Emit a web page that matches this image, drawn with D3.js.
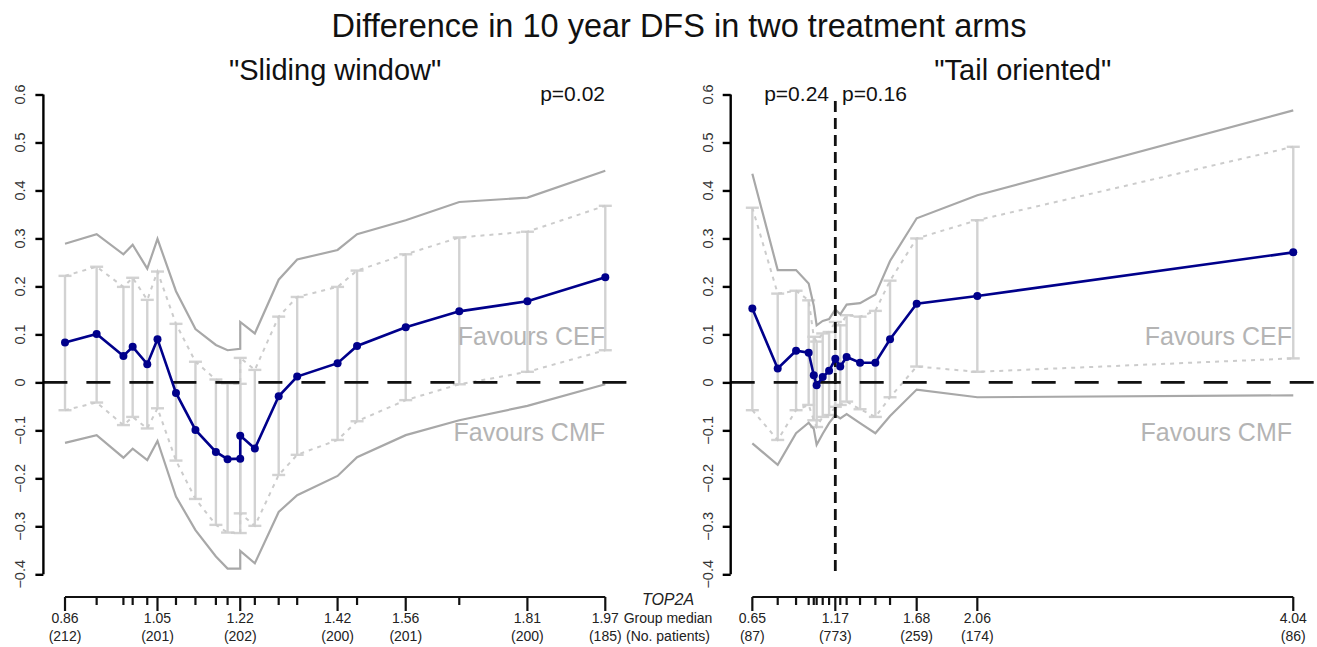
<!DOCTYPE html>
<html>
<head>
<meta charset="utf-8">
<script src="https://cdn.jsdelivr.net/npm/d3@7"></script>
<style>
  body { margin: 0; background: #fff; }
  svg { font-family: 'Liberation Sans', Arial, sans-serif; }
</style>
</head>
<body>
<svg id="chart" width="1317" height="647"></svg>
<script>
// DATA - sliding window
const leftMedian = [0.86, 0.925, 0.98, 0.999, 1.029, 1.05, 1.088, 1.128, 1.17, 1.194, 1.22, 1.22, 1.25, 1.299, 1.337, 1.42, 1.46, 1.56, 1.67, 1.81, 1.97];
const leftDiff = [0.083, 0.101, 0.055, 0.074, 0.038, 0.090, -0.022, -0.099, -0.145, -0.160, -0.159, -0.111, -0.138, -0.029, 0.012, 0.040, 0.076, 0.115, 0.148, 0.169, 0.219];
const leftLo = [-0.058, -0.042, -0.089, -0.072, -0.096, -0.054, -0.163, -0.243, -0.297, -0.313, -0.314, -0.273, -0.299, -0.193, -0.151, -0.120, -0.081, -0.037, -0.004, 0.022, 0.067];
const leftHi = [0.222, 0.241, 0.199, 0.218, 0.172, 0.231, 0.122, 0.043, 0.006, -0.002, -0.003, 0.051, 0.026, 0.137, 0.178, 0.199, 0.233, 0.267, 0.302, 0.314, 0.368];
const leftBandLo = [-0.126, -0.110, -0.157, -0.138, -0.162, -0.122, -0.238, -0.308, -0.363, -0.388, -0.388, -0.351, -0.377, -0.270, -0.235, -0.195, -0.156, -0.110, -0.079, -0.049, -0.004];
const leftBandHi = [0.289, 0.309, 0.267, 0.287, 0.237, 0.299, 0.190, 0.111, 0.078, 0.067, 0.070, 0.126, 0.102, 0.214, 0.256, 0.276, 0.309, 0.338, 0.376, 0.385, 0.441];
const leftLabelVals = [0.86, 1.05, 1.22, 1.42, 1.56, 1.81, 1.97];
const leftLabelN = [212, 201, 202, 200, 201, 200, 185];

// DATA - tail oriented
const rightMedian = [0.65, 0.809, 0.924, 1.003, 1.035, 1.053, 1.091, 1.131, 1.17, 1.201, 1.241, 1.325, 1.421, 1.513, 1.68, 2.06, 4.04];
const rightDiff = [0.154, 0.029, 0.066, 0.062, 0.015, -0.006, 0.011, 0.024, 0.049, 0.033, 0.053, 0.041, 0.041, 0.090, 0.164, 0.180, 0.271];
const rightLo = [-0.058, -0.120, -0.058, -0.047, -0.079, -0.093, -0.072, -0.068, -0.051, -0.047, -0.040, -0.056, -0.072, -0.031, 0.033, 0.022, 0.050];
const rightHi = [0.364, 0.185, 0.191, 0.171, 0.095, 0.085, 0.102, 0.105, 0.126, 0.119, 0.140, 0.137, 0.149, 0.212, 0.300, 0.338, 0.491];
const rightBandLo = [-0.127, -0.172, -0.106, -0.084, -0.097, -0.130, -0.107, -0.085, -0.068, -0.075, -0.066, -0.085, -0.106, -0.070, -0.015, -0.031, -0.027];
const rightBandHi = [0.435, 0.234, 0.234, 0.206, 0.160, 0.119, 0.128, 0.132, 0.152, 0.142, 0.162, 0.165, 0.183, 0.253, 0.342, 0.390, 0.567];
const rightLabelVals = [0.65, 1.17, 1.68, 2.06, 4.04];
const rightLabelN = [87, 773, 259, 174, 86];

const yTicks = [-0.4, -0.3, -0.2, -0.1, 0, 0.1, 0.2, 0.3, 0.4, 0.5, 0.6];

// SETUP
const svg = d3.select('#chart');
const y = d3.scaleLinear().domain([-0.4, 0.6]).range([574.3, 94.5]);
const axisY = 597;

const fmtY = d => (d === 0 ? '0' : d3.format('.1f')(d));

function drawPanel(p) {
  const span = d3.max(p.med) - d3.min(p.med);
  const x = d3.scaleLinear()
    .domain([d3.min(p.med) - 0.04 * span, d3.max(p.med) + 0.04 * span])
    .range(p.range);
  const g = svg.append('g');
  const idx = d3.range(p.med.length);

  // error bars
  const eb = g.append('g').attr('stroke', '#d2d2d2').attr('stroke-width', 2.4).attr('fill', 'none');
  idx.forEach(i => {
    const xx = x(p.med[i]);
    eb.append('line').attr('x1', xx).attr('x2', xx).attr('y1', y(p.lo[i])).attr('y2', y(p.hi[i]));
    [p.lo[i], p.hi[i]].forEach(v => {
      eb.append('line').attr('x1', xx - 6.5).attr('x2', xx + 6.5).attr('y1', y(v)).attr('y2', y(v));
    });
  });

  // dotted pointwise lines
  const line = arr => d3.line().x((d, i) => x(p.med[i])).y(d => y(d))(arr);
  [p.lo, p.hi].forEach(arr => {
    g.append('path').attr('d', line(arr)).attr('fill', 'none')
      .attr('stroke', '#cccccc').attr('stroke-width', 2).attr('stroke-dasharray', '4,5');
  });

  // solid bands
  [p.bandLo, p.bandHi].forEach(arr => {
    g.append('path').attr('d', line(arr)).attr('fill', 'none')
      .attr('stroke', '#a8a8a8').attr('stroke-width', 2.2);
  });

  // zero line
  g.append('line').attr('x1', p.range[0]).attr('x2', p.range[1])
    .attr('y1', y(0)).attr('y2', y(0))
    .attr('stroke', '#111').attr('stroke-width', 2.8).attr('stroke-dasharray', '24,19');

  // favours labels
  g.append('text').attr('x', p.favX).attr('y', 345)
    .attr('text-anchor', 'end').attr('font-size', 25).attr('fill', '#b4b4b4').text('Favours CEF');
  g.append('text').attr('x', p.favX).attr('y', 441)
    .attr('text-anchor', 'end').attr('font-size', 25).attr('fill', '#b4b4b4').text('Favours CMF');

  // cut line
  if (p.cut !== undefined) {
    g.append('line').attr('x1', x(p.cut)).attr('x2', x(p.cut)).attr('y1', 101).attr('y2', 577)
      .attr('stroke', '#111').attr('stroke-width', 2.8).attr('stroke-dasharray', '11,6');
  }

  // blue estimate
  g.append('path').attr('d', line(p.diff)).attr('fill', 'none')
    .attr('stroke', '#00008b').attr('stroke-width', 2.6);
  g.selectAll('.pt').data(p.diff).enter().append('circle')
    .attr('cx', (d, i) => x(p.med[i])).attr('cy', d => y(d)).attr('r', 4)
    .attr('fill', '#00008b');

  // y axis
  const ya = g.append('g').attr('transform', 'translate(' + p.range[0] + ',0)')
    .call(d3.axisLeft(y).tickValues(yTicks).tickSize(8).tickFormat(''));
  ya.select('.domain').attr('d', 'M0,' + y(0.6) + 'V' + y(-0.4)).attr('stroke-width', 2.4);
  ya.selectAll('.tick line').attr('stroke-width', 2.4);
  yTicks.forEach(t => {
    g.append('text').attr('transform', 'translate(' + (p.range[0] - 18) + ',' + y(t) + ')rotate(-90)')
      .attr('text-anchor', 'middle').attr('font-size', 14.5).attr('fill', '#333').text(fmtY(t));
  });

  // bottom axis of group medians
  const uniq = Array.from(new Set(p.med));
  const xa = g.append('g').attr('transform', 'translate(0,' + axisY + ')');
  xa.append('line').attr('x1', x(uniq[0])).attr('x2', x(uniq[uniq.length - 1]))
    .attr('stroke', '#111').attr('stroke-width', 2.2);
  uniq.forEach(v => {
    const major = p.labVals.includes(v);
    xa.append('line').attr('x1', x(v)).attr('x2', x(v)).attr('y1', 0).attr('y2', major ? 14 : 8)
      .attr('stroke', '#111').attr('stroke-width', 2.2);
  });
  p.labVals.forEach((v, i) => {
    xa.append('text').attr('x', x(v)).attr('y', 26).attr('text-anchor', 'middle')
      .attr('font-size', 14).attr('fill', '#222').text(d3.format('.2f')(v));
    xa.append('text').attr('x', x(v)).attr('y', 44).attr('text-anchor', 'middle')
      .attr('font-size', 14).attr('fill', '#222').text('(' + p.labN[i] + ')');
  });

  // panel title and p-values
  svg.append('text').attr('x', (p.range[0] + p.range[1]) / 2).attr('y', 80)
    .attr('text-anchor', 'middle').attr('font-size', 29).attr('fill', '#111').text(p.title);
  p.pvals.forEach(pv => {
    svg.append('text').attr('x', pv.x).attr('y', 101).attr('text-anchor', pv.anchor)
      .attr('font-size', 21).attr('fill', '#111').text(pv.text);
  });
  return x;
}

drawPanel({
  med: leftMedian, diff: leftDiff, lo: leftLo, hi: leftHi,
  bandLo: leftBandLo, bandHi: leftBandHi, labVals: leftLabelVals, labN: leftLabelN,
  range: [43.4, 626.9], favX: 605, title: '"Sliding window"',
  pvals: [{ x: 605, anchor: 'end', text: 'p=0.02' }]
});

drawPanel({
  med: rightMedian, diff: rightDiff, lo: rightLo, hi: rightHi,
  bandLo: rightBandLo, bandHi: rightBandHi, labVals: rightLabelVals, labN: rightLabelN,
  range: [730.7, 1314.9], favX: 1292, cut: 1.17, title: '"Tail oriented"',
  pvals: [{ x: 829, anchor: 'end', text: 'p=0.24' }, { x: 842, anchor: 'start', text: 'p=0.16' }]
});

// MAIN TITLE
svg.append('text').attr('x', 679).attr('y', 37).attr('text-anchor', 'middle')
  .attr('font-size', 32.5).attr('fill', '#111').text('Difference in 10 year DFS in two treatment arms');

// bottom axis captions
const cap = svg.append('g').attr('font-size', 14).attr('fill', '#222').attr('text-anchor', 'middle');
cap.append('text').attr('x', 668).attr('y', axisY + 8).attr('font-style', 'italic').attr('font-size', 16).text('TOP2A');
cap.append('text').attr('x', 668).attr('y', axisY + 26).text('Group median');
cap.append('text').attr('x', 668).attr('y', axisY + 44).text('(No. patients)');
</script>
</body>
</html>
